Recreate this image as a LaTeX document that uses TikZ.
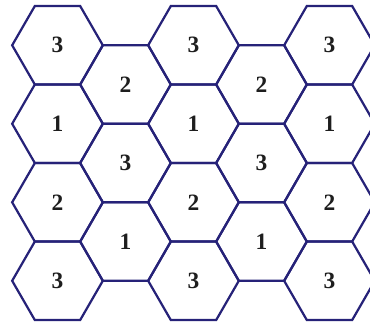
\documentclass[tikz,border=0pt]{standalone}
\usepackage{fontspec}
\setmainfont{Liberation Serif}
\usetikzlibrary{shapes.geometric}
\definecolor{hexline}{RGB}{38,34,120}
\definecolor{ink}{RGB}{30,30,30}
\tikzset{
  cell/.style={regular polygon, regular polygon sides=6, draw=hexline, line width=1.9pt,
               minimum size=2.72cm, inner sep=0pt, text=ink,
               font=\fontsize{20}{24}\selectfont\bfseries},
}

\begin{document}
\begin{tikzpicture}
  \useasboundingbox (0,0) rectangle (11.1,-9.87);
  \clip (0,0) rectangle (11.1,-9.87);

  % ---- column a (four cells) ----------------------------------------
  \node[cell] (a1) at (1.725,-1.358) {3};
  \node[cell] (a2) at (1.725,-3.713) {1};
  \node[cell] (a3) at (1.725,-6.069) {2};
  \node[cell] (a4) at (1.725,-8.424) {3};

  % ---- column b (three cells, shifted half a row) -------------------
  \node[cell] (b1) at (3.765,-2.535) {2};
  \node[cell] (b2) at (3.765,-4.891) {3};
  \node[cell] (b3) at (3.765,-7.247) {1};

  % ---- column c -----------------------------------------------------
  \node[cell] (c1) at (5.805,-1.358) {3};
  \node[cell] (c2) at (5.805,-3.713) {1};
  \node[cell] (c3) at (5.805,-6.069) {2};
  \node[cell] (c4) at (5.805,-8.424) {3};

  % ---- column d -----------------------------------------------------
  \node[cell] (d1) at (7.845,-2.535) {2};
  \node[cell] (d2) at (7.845,-4.891) {3};
  \node[cell] (d3) at (7.845,-7.247) {1};

  % ---- column e (cut by the right edge) -----------------------------
  \node[cell] (e1) at (9.885,-1.358) {3};
  \node[cell] (e2) at (9.885,-3.713) {1};
  \node[cell] (e3) at (9.885,-6.069) {2};
  \node[cell] (e4) at (9.885,-8.424) {3};
\end{tikzpicture}
\end{document}
